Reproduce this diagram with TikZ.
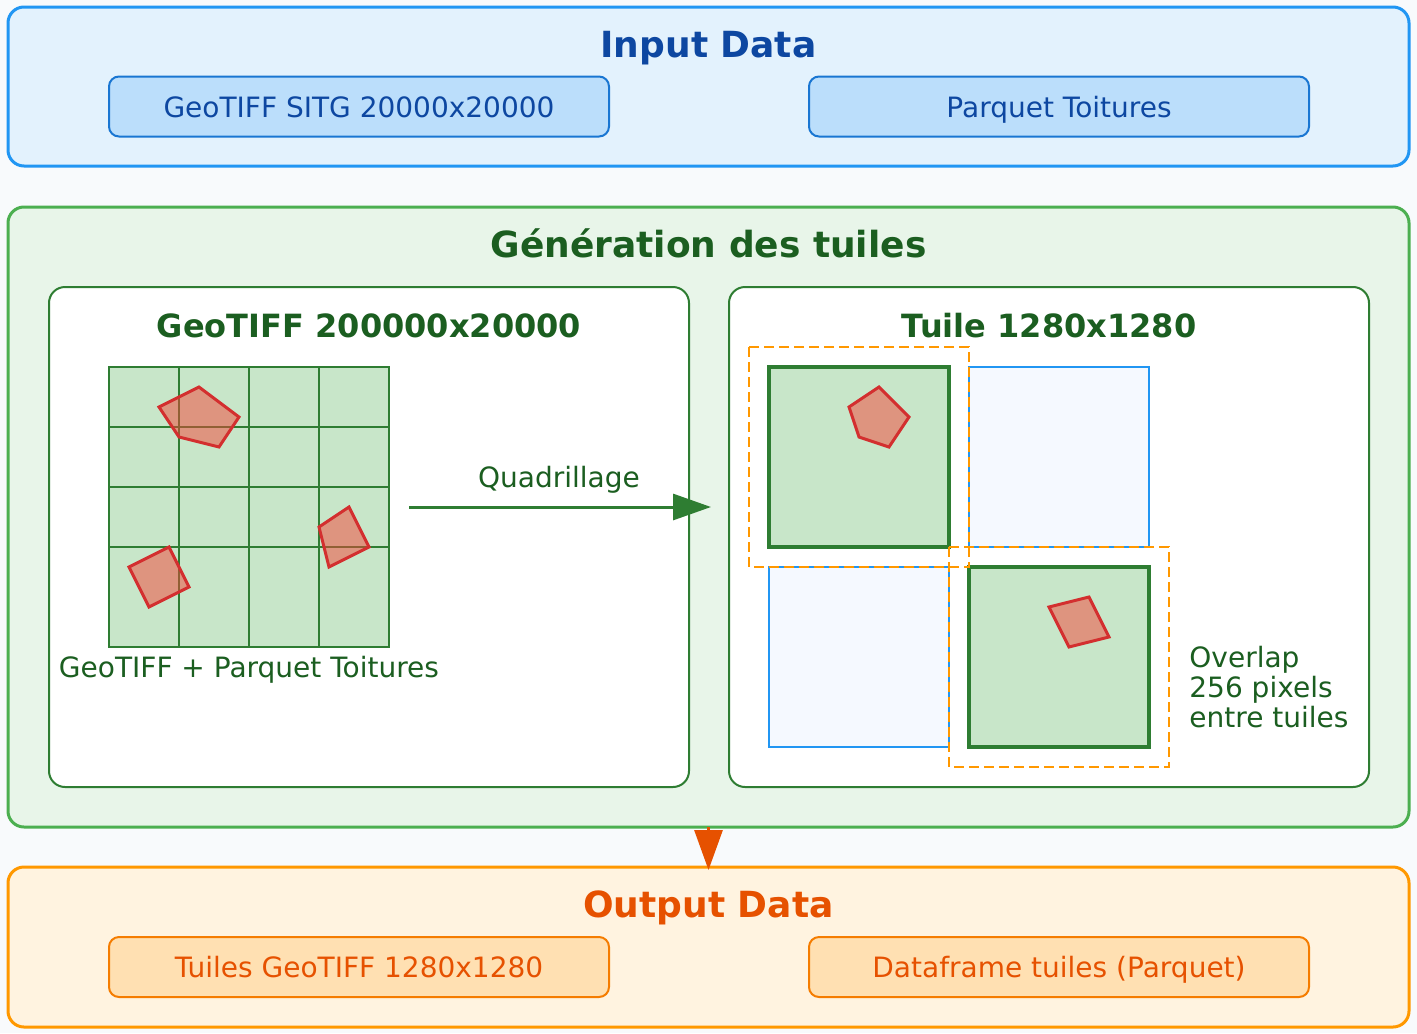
\documentclass[tikz,border=0pt]{standalone}
\usepackage{fontspec}
\setmainfont{DejaVu Sans}
\usetikzlibrary{arrows.meta,fit}

\definecolor{pagebg}{HTML}{F8FAFC}
\definecolor{inline}{HTML}{2196F3}
\definecolor{infill}{HTML}{E3F2FD}
\definecolor{indark}{HTML}{0D47A1}
\definecolor{inboxline}{HTML}{1976D2}
\definecolor{inboxfill}{HTML}{BBDEFB}
\definecolor{genline}{HTML}{4CAF50}
\definecolor{genfill}{HTML}{E8F5E9}
\definecolor{gendark}{HTML}{1B5E20}
\definecolor{panelline}{HTML}{2E7D32}
\definecolor{cellfill}{HTML}{C8E6C9}
\definecolor{roofline}{HTML}{D32F2F}
\definecolor{rooffill}{HTML}{F44336}
\definecolor{tilefill}{HTML}{F5F9FF}
\definecolor{overlapline}{HTML}{FF9800}
\definecolor{outline}{HTML}{FF9800}
\definecolor{outfill}{HTML}{FFF3E0}
\definecolor{outdark}{HTML}{E65100}
\definecolor{outboxline}{HTML}{F57C00}
\definecolor{outboxfill}{HTML}{FFE0B2}

\begin{document}
\begin{tikzpicture}[x=0.5pt, y=-0.5pt,
  bigbox/.style={line width=1.5pt, rounded corners=8pt, inner sep=0pt, outer sep=0pt},
  panelbox/.style={draw=panelline, fill=white, line width=1pt, rounded corners=8pt, inner sep=0pt, outer sep=0pt},
  databox/.style={line width=1pt, rounded corners=5pt, minimum width=250pt, minimum height=30pt, inner sep=0pt, text height=13pt, text depth=2.5pt, font=\fontsize{14pt}{17pt}\selectfont},
  titletext/.style={anchor=base, font=\fontsize{18pt}{22pt}\selectfont\bfseries},
  subtitletext/.style={anchor=base, text=gendark, font=\fontsize{16pt}{20pt}\selectfont\bfseries},
  bodytext/.style={anchor=base, text=gendark, font=\fontsize{14pt}{15pt}\selectfont},
  gridline/.style={draw=panelline, line width=1pt},
  roof/.style={draw=roofline, line width=1.5pt, fill=rooffill, fill opacity=0.5},
  tilegreen/.style={draw=panelline, fill=cellfill, line width=2pt},
  tileblue/.style={draw=inline, fill=tilefill, line width=1pt},
  overlapbox/.style={draw=overlapline, line width=1.25pt, dash pattern=on 5pt off 2.5pt},
  quadarrow/.style={draw=panelline, line width=1.5pt, -{Triangle[length=19pt, width=13pt]}},
  downarrow/.style={draw=outdark, line width=1.5pt, -{Triangle[length=20pt, width=14pt]}}]

  \fill[pagebg] (0,0) rectangle (1417,1033);

  \node[bigbox, draw=inline, fill=infill, fit={(8,7) (1409,166)}] (inputbox) {};
  \node[titletext, text=indark] (inputtitle) at (708.5,57) {Input Data};
  \node[databox, draw=inboxline, fill=inboxfill, text=indark] (sitg) at (359,106.5) {GeoTIFF SITG 20000x20000};
  \node[databox, draw=inboxline, fill=inboxfill, text=indark] (toitures) at (1059,106.5) {Parquet Toitures};

  \node[bigbox, draw=genline, fill=genfill, fit={(8,207) (1409,827)}] (genbox) {};
  \node[titletext, text=gendark] (gentitle) at (708.5,257) {Génération des tuiles};

  \node[panelbox, fit={(49,287) (689,787)}] (rasterpanel) {};
  \node[subtitletext] (rastertitle) at (369,337) {GeoTIFF 200000x20000};
  \node[fill=cellfill, draw=panelline, line width=1pt, inner sep=0pt, outer sep=0pt, fit={(109,367) (389,647)}] (grid) {};
  \foreach \x in {179,249,319}
    \draw[gridline] (\x,367) -- (\x,647);
  \foreach \y in {427,487,547}
    \draw[gridline] (109,\y) -- (389,\y);
  \draw[roof] (159,407) -- (199,387) -- (239,417) -- (219,447) -- (179,437) -- cycle;
  \draw[roof] (319,527) -- (349,507) -- (369,547) -- (329,567) -- cycle;
  \draw[roof] (129,567) -- (169,547) -- (189,587) -- (149,607) -- cycle;
  \node[bodytext] (gridcaption) at (249,677) {GeoTIFF + Parquet Toitures};

  \coordinate (quadend) at (711,507);
  \draw[quadarrow] ([xshift=10pt]grid.east) -- (quadend);
  \node[bodytext] (quadlabel) at (559,487) {Quadrillage};

  \node[panelbox, fit={(729,287) (1369,787)}] (tilepanel) {};
  \node[subtitletext] (tiletitle) at (1049,337) {Tuile 1280x1280};
  \draw[tileblue] (969,367) rectangle (1149,547);
  \draw[tileblue] (769,567) rectangle (949,747);
  \draw[tilegreen] (769,367) rectangle (949,547);
  \draw[tilegreen] (969,567) rectangle (1149,747);
  \draw[roof] (849,407) -- (879,387) -- (909,417) -- (889,447) -- (859,437) -- cycle;
  \draw[roof] (1049,607) -- (1089,597) -- (1109,637) -- (1069,647) -- cycle;
  \draw[overlapbox] (749,347) rectangle (969,567);
  \draw[overlapbox] (949,547) rectangle (1169,767);
  \node[bodytext, anchor=base west, align=left, inner sep=0pt] (overlaplabel) at (1189,727) {Overlap\\256 pixels\\entre tuiles};

  \node[bigbox, draw=outline, fill=outfill, fit={(8,867) (1409,1027)}] (outputbox) {};
  \node[titletext, text=outdark] (outputtitle) at (708.5,917) {Output Data};
  \node[databox, draw=outboxline, fill=outboxfill, text=outdark] (tilesout) at (359,967) {Tuiles GeoTIFF 1280x1280};
  \node[databox, draw=outboxline, fill=outboxfill, text=outdark] (dfout) at (1059,967) {Dataframe tuiles (Parquet)};

  \draw[downarrow] (genbox.south) -- ([yshift=-1.5pt]outputbox.north);
\end{tikzpicture}
\end{document}
